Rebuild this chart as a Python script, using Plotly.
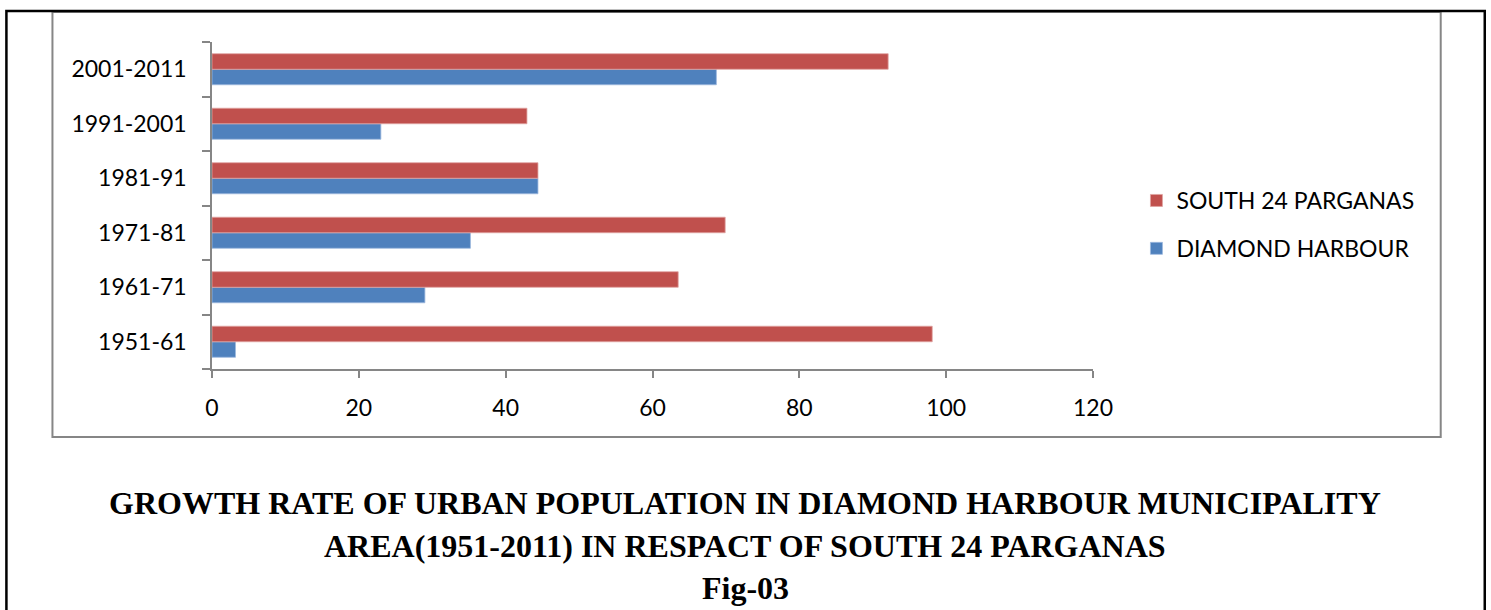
import plotly.graph_objects as go

periods = ["1951-61", "1961-71", "1971-81", "1981-91", "1991-2001", "2001-2011"]
south_24_parganas = [98.1, 63.5, 69.9, 44.4, 42.9, 92.1]
diamond_harbour = [3.2, 29.0, 35.2, 44.4, 23.0, 68.7]
x_ticks = [0, 20, 40, 60, 80, 100, 120]

W, H = 1491, 610
L, R, T, B = 212.4, 1092.6, 42, 369  # plot area in px

def px_x(p):
    return (p - L) / (R - L)

def px_y(p):
    return (B - p) / (B - T)

fig = go.Figure()
fig.add_trace(go.Bar(
    y=periods, x=diamond_harbour, orientation="h", name="DIAMOND HARBOUR",
    marker=dict(color="#4F81BD", line=dict(color="#9DB9DE", width=0.8)),
    legendgroup="b", legendrank=2,
))
fig.add_trace(go.Bar(
    y=periods, x=south_24_parganas, orientation="h", name="SOUTH 24 PARGANAS",
    marker=dict(color="#C0504D", line=dict(color="#E0A3A1", width=0.8)),
    legendgroup="a", legendrank=1,
))

label_font = dict(family="Lato, Open Sans, sans-serif", size=23, color="#000000")

fig.update_layout(
    width=W, height=H,
    margin=dict(l=L, r=W - R, t=T, b=H - B, pad=0),
    paper_bgcolor="white", plot_bgcolor="white",
    barmode="group", bargap=0.43, bargroupgap=0,
    showlegend=True,
    legend=dict(
        x=px_x(1136), y=px_y(179), xanchor="left", yanchor="top",
        traceorder="grouped", tracegroupgap=15,
        font=dict(family="Lato, Open Sans, sans-serif", size=23, color="#000000"),
        bgcolor="rgba(0,0,0,0)",
    ),
    xaxis=dict(
        range=[0, 120], tickvals=x_ticks, ticktext=[str(v) for v in x_ticks],
        showgrid=False, zeroline=False,
        showline=True, linecolor="#868686", linewidth=1.5,
        ticks="outside", ticklen=7, tickwidth=1.5, tickcolor="#868686",
        tickfont=label_font, ticklabelstandoff=11, fixedrange=True,
    ),
    yaxis=dict(
        type="category", categoryorder="array", categoryarray=periods,
        showgrid=False, zeroline=False,
        showline=True, linecolor="#868686", linewidth=1.5,
        ticks="outside", tickson="boundaries", ticklen=8, tickwidth=1.5, tickcolor="#868686",
        tickfont=label_font, ticklabelstandoff=19, fixedrange=True,
    ),
    shapes=[
        dict(type="rect", xref="paper", yref="paper",
             x0=px_x(53), x1=px_x(1440), y0=px_y(437), y1=px_y(12),
             line=dict(color="#868686", width=2), fillcolor="rgba(0,0,0,0)", layer="below"),
        dict(type="rect", xref="paper", yref="paper",
             x0=px_x(7), x1=px_x(1484), y0=px_y(640), y1=px_y(11),
             line=dict(color="#000000", width=2.5), fillcolor="rgba(0,0,0,0)", layer="below"),
    ],
    annotations=[
        dict(text="<b>GROWTH RATE OF URBAN POPULATION IN DIAMOND HARBOUR MUNICIPALITY</b>",
             xref="paper", yref="paper", x=px_x(745), y=px_y(503), showarrow=False,
             xanchor="center", yanchor="middle",
             font=dict(family="Liberation Serif, Times New Roman, serif", size=32, color="#000000")),
        dict(text="<b>AREA(1951-2011) IN RESPACT OF SOUTH 24 PARGANAS</b>",
             xref="paper", yref="paper", x=px_x(745), y=px_y(546), showarrow=False,
             xanchor="center", yanchor="middle",
             font=dict(family="Liberation Serif, Times New Roman, serif", size=32, color="#000000")),
        dict(text="<b>Fig-03</b>",
             xref="paper", yref="paper", x=px_x(745), y=px_y(588), showarrow=False,
             xanchor="center", yanchor="middle",
             font=dict(family="Liberation Serif, Times New Roman, serif", size=32, color="#000000")),
    ],
)

fig.write_html("out.html", config={"displayModeBar": False})
